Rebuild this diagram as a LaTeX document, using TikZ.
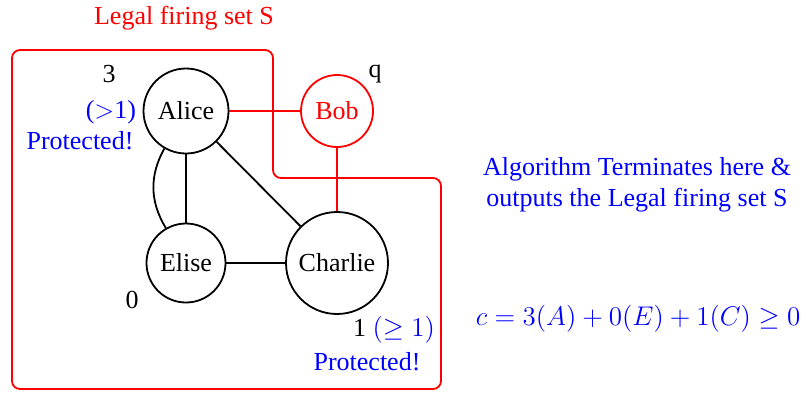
\documentclass[tikz,border=0pt]{standalone}
\usepackage{fix-cm}
\usepackage{fontspec}
\setmainfont{Liberation Serif}
\usepackage{amsmath}
\usetikzlibrary{positioning}

\begin{document}
\begin{tikzpicture}[x=0.5pt,y=-0.5pt,
    every node/.style={font=\fontsize{13}{15.6}\selectfont},
    vertex/.style={draw,circle,line width=0.9pt,inner sep=0pt},
    edge/.style={line width=0.9pt},
    note/.style={text=blue}]
    \useasboundingbox (0,0) rectangle (802,392);
    % legal firing set
    \draw[red,line width=0.9pt,rounded corners=4pt] (12,50) -- (273,50) -- (273,178) -- (441,178) -- (441,389) -- (12,389) -- cycle;
    \node[red] (setname) at (184,18) {Legal firing set S};
    % graph
    \node[vertex,minimum size=42.5pt] (alice) at (186,111) {Alice};
    \node[vertex,red,minimum size=36pt] (bob) at (337,111) {Bob};
    \node[vertex,minimum size=39.5pt] (elise) at (186,263) {Elise};
    \node[vertex,minimum size=51pt] (charlie) at (337,263) {Charlie};
    \draw[edge] (alice) -- (elise);
    \draw[edge] (alice) to[bend right=30] (elise);
    \draw[edge] (alice) -- (charlie);
    \draw[edge] (elise) -- (charlie);
    \draw[edge,red] (alice) -- (bob);
    \draw[edge,red] (bob) -- (charlie);
    % chips
    \node (chipsA) at (109,74) {3};
    \node (chipsB) at (375,74) {q};
    \node (chipsE) at (132,300) {0};
    \node[anchor=east] (chipsC) at (442,330) {1 \textcolor{blue}{\fontsize{13.5}{16}\selectfont$(\geq 1)$}};
    \node[note,anchor=east] (needA) at (143,112) {($>$1)};
    \node[note] (protA) at (80,141) {Protected!};
    \node[note] (protC) at (367,362) {Protected!};
    % result
    \node[note,align=center] (result) at (637,185) {Algorithm Terminates here \&\\outputs the Legal firing set S};
    \node[note,font=\fontsize{13.5}{16}\selectfont] (config) at (638,319) {$c = 3(A) + 0(E) + 1(C) \geq 0$};
\end{tikzpicture}
\end{document}
